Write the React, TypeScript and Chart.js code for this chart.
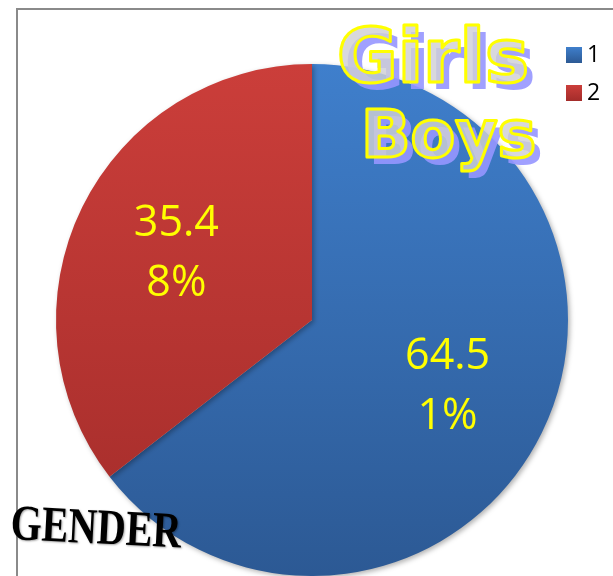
import React, { useEffect, useRef } from "react";
import { Chart, registerables } from "chart.js";

Chart.register(...registerables);

const categories = ["1", "2"];
const shares = [64.51, 35.48];
const sliceTop = ["#3f7fcc", "#cb3e3a"];
const sliceBottom = ["#2c5994", "#a32c2a"];
const titleLines = ["Girls", "Boys"];
const cornerLabel = "GENDER";

const decorPlugin = {
  id: "decor",
  beforeDraw(chart: any) {
    const ctx = chart.ctx;
    ctx.save();
    ctx.fillStyle = "#ffffff";
    ctx.fillRect(0, 0, chart.width, chart.height);
    ctx.strokeStyle = "#8a8a8a";
    ctx.lineWidth = 2;
    ctx.strokeRect(17, 9, chart.width + 20, chart.height + 20);
    ctx.restore();
  },
  beforeDatasetsDraw(chart: any) {
    const ctx = chart.ctx;
    ctx.save();
    ctx.shadowColor = "rgba(0,0,0,0.3)";
    ctx.shadowBlur = 5;
    ctx.shadowOffsetX = 2;
    ctx.shadowOffsetY = 2;
  },
  afterDatasetsDraw(chart: any) {
    chart.ctx.restore();
  },
  afterDraw(chart: any) {
    const ctx = chart.ctx;
    const meta = chart.getDatasetMeta(0);
    const values = chart.data.datasets[0].data as number[];
    // slice labels
    ctx.save();
    ctx.fillStyle = "#ffff00";
    ctx.font = '43px "Open Sans"';
    ctx.textAlign = "center";
    ctx.textBaseline = "middle";
    meta.data.forEach((arc: any, i: number) => {
      const p = arc.getProps(["x", "y", "startAngle", "endAngle", "outerRadius"], true);
      const mid = (p.startAngle + p.endAngle) / 2;
      const px = p.x + Math.cos(mid) * p.outerRadius * 0.59;
      const py = p.y + Math.sin(mid) * p.outerRadius * 0.59;
      const txt = values[i].toFixed(2) + "%";
      const lines = [txt.slice(0, 4), txt.slice(4)];
      ctx.fillText(lines[0], px, py - 30);
      ctx.fillText(lines[1], px, py + 30);
    });
    ctx.restore();

    // legend
    ctx.save();
    const labels = chart.data.labels as string[];
    ctx.font = '23px "Open Sans"';
    ctx.textBaseline = "middle";
    ctx.textAlign = "left";
    labels.forEach((lab, i) => {
      const y = 47 + i * 38;
      const g = ctx.createLinearGradient(0, y, 0, y + 16);
      g.addColorStop(0, sliceTop[i]);
      g.addColorStop(1, sliceBottom[i]);
      ctx.fillStyle = g;
      ctx.fillRect(566, y, 16, 16);
      ctx.fillStyle = "#000000";
      ctx.fillText(lab, 587, y + 8);
    });
    ctx.restore();

    // WordArt title
    ctx.save();
    const specs = [
      { t: titleLines[0], x: 337, y: 82, size: 74 },
      { t: titleLines[1], x: 361, y: 157, size: 65 },
    ];
    specs.forEach((s) => {
      ctx.font = `bold ${s.size}px "DejaVu Sans"`;
      ctx.textAlign = "left";
      ctx.textBaseline = "alphabetic";
      ctx.fillStyle = "rgba(150,150,255,0.9)";
      ctx.fillText(s.t, s.x + 7, s.y + 7);
      ctx.fillStyle = "rgba(208,208,214,0.82)";
      ctx.fillText(s.t, s.x, s.y);
      ctx.lineJoin = "round";
      ctx.strokeStyle = "#ffff00";
      ctx.lineWidth = 3;
      ctx.strokeText(s.t, s.x, s.y);
    });
    ctx.restore();

    // corner label
    ctx.save();
    ctx.translate(10, 539);
    ctx.rotate(0.05);
    ctx.scale(0.95, 1.2);
    ctx.font = 'bold 42px "Liberation Serif"';
    ctx.fillStyle = "#000000";
    ctx.textBaseline = "alphabetic";
    ctx.shadowColor = "rgba(0,0,0,0.35)";
    ctx.shadowBlur = 2;
    ctx.shadowOffsetX = 1;
    ctx.shadowOffsetY = 1;
    ctx.fillText(cornerLabel, 0, 0);
    ctx.restore();
  },
};

export default function App() {
  const ref = useRef<HTMLCanvasElement | null>(null);
  useEffect(() => {
    if (!ref.current) return;
    const chart = new Chart(ref.current, {
      type: "pie",
      data: {
        labels: categories,
        datasets: [
          {
            data: shares,
            borderWidth: 0,
            backgroundColor: (c: any) => {
              const area = c.chart.chartArea;
              if (!area) return sliceTop[c.dataIndex];
              const g = c.chart.ctx.createLinearGradient(0, area.top, 0, area.bottom);
              g.addColorStop(0, sliceTop[c.dataIndex]);
              g.addColorStop(1, sliceBottom[c.dataIndex]);
              return g;
            },
          },
        ],
      },
      options: {
        responsive: false,
        animation: false,
        layout: { padding: { top: 64, left: 11, right: 0, bottom: 0 } },
        plugins: {
          legend: { display: false },
          tooltip: { enabled: false },
          title: { display: false },
        },
      },
      plugins: [decorPlugin],
    });
    return () => chart.destroy();
  }, []);
  return (
    <div style={{ position: "absolute", left: 0, top: 0, width: 613, height: 576 }}>
      <canvas ref={ref} width={613} height={576} style={{ display: "block" }} />
    </div>
  );
}
